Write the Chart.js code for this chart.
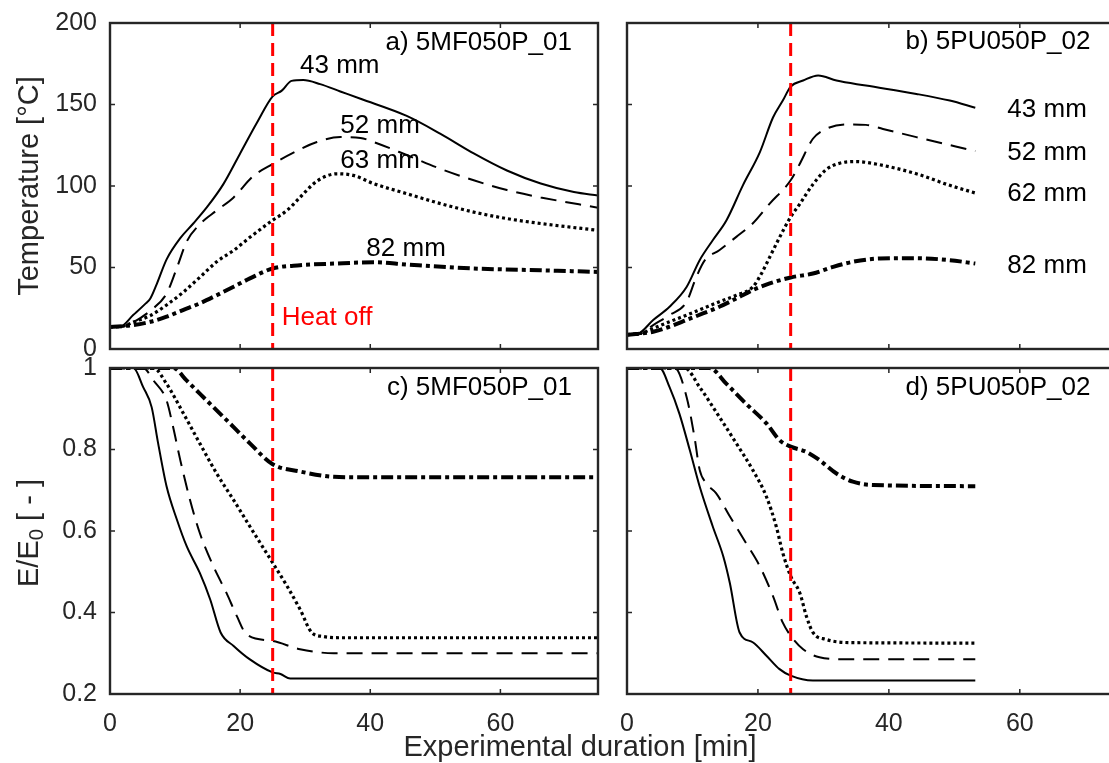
<!DOCTYPE html>
<html><head><meta charset="utf-8">
<script src="https://cdn.jsdelivr.net/npm/chart.js@4.4.1/dist/chart.umd.min.js"></script>
<style>
html,body{margin:0;padding:0;background:#fff;}
body{width:1109px;height:763px;overflow:hidden;position:relative;font-family:'Liberation Sans',Arial,sans-serif;}
.box{position:absolute;}
.ttl{position:absolute;color:#262626;font-size:29px;white-space:nowrap;line-height:1;}
.ttl sub{font-size:0.7em;vertical-align:-0.25em;line-height:0;}
</style></head><body>
<div class="box" style="left:0;top:0;width:620px;height:365px"><canvas id="ca"></canvas></div>
<div class="box" style="left:600px;top:0;width:540px;height:365px"><canvas id="cb"></canvas></div>
<div class="box" style="left:0;top:350px;width:620px;height:413px"><canvas id="cc"></canvas></div>
<div class="box" style="left:600px;top:350px;width:540px;height:413px"><canvas id="cd"></canvas></div>
<div class="ttl" style="left:28px;top:186px;transform:translate(-50%,-50%) rotate(-90deg)">Temperature [°C]</div>
<div class="ttl" style="left:28px;top:533px;transform:translate(-50%,-50%) rotate(-90deg)">E/E<sub>0</sub> [ - ]</div>
<div class="ttl" style="left:580px;top:746px;transform:translate(-50%,-50%)">Experimental duration [min]</div>
<script>
// ---------- data ----------
const heatOff = 25;
const xTicks = [0, 20, 40, 60];
const tempTicks = [0, 50, 100, 150, 200];
const ratioTicks = [0.2, 0.4, 0.6, 0.8, 1];

// a) 5MF050P_01 temperature [min, °C]
const a43 = [[0,13.5],[1.5,13.6],[3.6,21],[5.5,28],[6.2,31],[7.2,40],[8.7,55],[10.8,68],[12.8,77],[14.9,87],[17.4,101],[20,120],[22.6,139],[25,155],[26.4,158.5],[27.9,164.5],[29.7,165],[32.3,162.5],[35.4,158],[38.5,153.5],[45.6,143],[50.8,132],[55.9,120],[61,109.5],[66.2,101.5],[71.3,96.3],[75,94.2]];
const a52 = [[0,13.5],[2,14],[3.6,16.5],[6.2,23.5],[8.7,34],[10.3,50],[11.8,66],[13.8,76.5],[16.4,85],[19,93],[22,106],[25,113.5],[28.2,120.5],[31.8,127],[35.4,130],[38.5,129.5],[40.5,127],[45.6,119],[50.8,110.5],[55.9,103.5],[61,97.5],[66.2,93],[75,86.7]];
const a63 = [[0,13.5],[2,14],[3.6,16.5],[6.2,20.5],[8.7,27],[11.3,35],[13.8,44],[16.4,53.5],[19,60.5],[21.5,68.5],[25,79],[27.2,85],[29.2,93],[31.8,103],[34.9,107.5],[37.4,106.5],[40.5,101.5],[45.6,95.3],[50.8,89.2],[55.9,84],[61,80],[66.2,77],[75,72.8]];
const a82 = [[0,13.5],[3.6,14.7],[6.2,16.7],[8.7,19.8],[11.3,24],[13.8,28],[16.4,33],[19,38.2],[21.5,43.3],[25,49.4],[29.2,51.4],[34.4,52.4],[40.5,53.2],[45.6,51.8],[55.9,49.4],[66.2,48.3],[75,47.3]];

// b) 5PU050P_02 temperature
const b43 = [[0,9],[1.7,9.5],[4,17.8],[6.5,25.9],[9.1,38],[11.1,54.5],[13.1,66.7],[15.2,79],[17.7,100.4],[20.3,120.8],[22.3,142],[23.8,152.4],[25,161],[26.9,164.7],[29.2,167.8],[32,164.7],[36.5,161.6],[44.2,156.5],[49.3,152.4],[53.2,148]];
const b52 = [[0,9],[2,9.5],[4,14.7],[6.5,20.8],[9.1,29],[10.6,44.3],[11.9,54.5],[14.1,60.6],[16.7,68.8],[19.2,77],[21.8,89.2],[25,103.5],[26.4,113.7],[28.4,129],[30.4,135],[33.5,137.8],[36.5,137.5],[39.1,135],[44.2,130],[53.2,121.4]];
const b62 = [[0,9],[2,9.5],[4,12.7],[6.5,16.7],[9.1,20.8],[11.6,24.9],[14.1,29],[16.7,33],[19.2,38],[20.5,46],[22,58],[23.5,70],[25,81],[26.4,89],[28.4,101],[30.4,110],[32.5,114],[35,115],[38,113.5],[44.2,107.5],[49.3,100.4],[53.2,95.7]];
const b82 = [[0,8.6],[4,10.6],[6.5,13.7],[9.1,17.8],[11.6,21.8],[14.1,25.9],[16.7,31],[19.2,36.1],[21.8,40.2],[25,43.9],[28.4,46.3],[31.5,50.4],[34.5,53.5],[38.6,55.5],[44.2,55.7],[49.3,54.5],[53.2,52.4]];

// c) 5MF050P_01 E/E0
const c43 = [[0,1],[3.6,1],[5.1,0.953],[6.4,0.904],[7.4,0.815],[8.7,0.709],[10.3,0.627],[11.8,0.562],[13.8,0.497],[15.4,0.432],[17,0.351],[19,0.318],[21.5,0.285],[25,0.253],[26.2,0.249],[27.7,0.238],[75,0.238]];
const c52 = [[0,1],[5.1,1],[6.7,0.969],[8.7,0.92],[9.7,0.855],[10.8,0.774],[12.3,0.676],[13.8,0.595],[15.9,0.513],[17.9,0.448],[19.5,0.391],[21,0.346],[25,0.33],[29.2,0.31],[34.4,0.3],[75,0.3]];
const c63 = [[0,1],[6.7,1],[8.7,0.961],[11.3,0.888],[13.8,0.815],[16.4,0.741],[19,0.676],[21.5,0.611],[25,0.522],[27.2,0.465],[29.2,0.408],[31,0.351],[32.8,0.341],[36,0.338],[75,0.338]];
const c82 = [[0,1],[9.7,1],[11.8,0.969],[13.8,0.937],[16.4,0.896],[19,0.855],[21.5,0.815],[25,0.764],[29.2,0.746],[34.4,0.733],[38.5,0.732],[75,0.732]];

// d) 5PU050P_02 E/E0
const d43 = [[0,1],[5,1],[6.5,0.953],[8,0.888],[9.6,0.798],[11.1,0.709],[13.1,0.611],[14.7,0.538],[15.7,0.473],[17.2,0.351],[19.2,0.327],[21.3,0.294],[23.3,0.261],[25,0.245],[28.4,0.233],[53.2,0.233]];
const d52 = [[0,1],[7.3,1],[9.1,0.929],[10.3,0.831],[11.1,0.75],[12.1,0.717],[13.6,0.693],[15.7,0.636],[18.2,0.57],[20.3,0.513],[22.3,0.44],[23.8,0.375],[25,0.343],[26.9,0.31],[29.4,0.29],[33.5,0.285],[53.2,0.285]];
const d62 = [[0,1],[8.8,1],[11.1,0.953],[14.1,0.88],[16.7,0.815],[19.2,0.75],[21.3,0.684],[22.8,0.611],[23.8,0.546],[25,0.489],[26.4,0.448],[27.4,0.391],[28.4,0.351],[30.4,0.334],[34.5,0.326],[53.2,0.325]];
const d82 = [[0,1],[12.6,1],[15.2,0.961],[18.2,0.912],[21.3,0.864],[23.3,0.823],[25,0.807],[27.4,0.794],[29.4,0.774],[32,0.741],[34.5,0.721],[37.6,0.713],[53.2,0.71]];

// ---------- rendering ----------
const FONT = "'Liberation Sans', Arial, sans-serif";
Chart.defaults.font.family = FONT;
Chart.defaults.color = '#262626';

const styles = {
  solid:   {borderWidth: 2,   borderDash: []},
  dashed:  {borderWidth: 2,   borderDash: [16, 9]},
  dotted:  {borderWidth: 3.2, borderDash: [3, 3]},
  dashdot: {borderWidth: 4,   borderDash: [12, 4, 4, 4]}
};

const framePlugin = {
  id: 'frame',
  afterDatasetsDraw(chart) {
    const {ctx, chartArea: a, scales: {x, y}} = chart;
    ctx.save();
    ctx.strokeStyle = '#262626';
    ctx.lineWidth = 1.5;
    ctx.beginPath();
    x.ticks.forEach(t => {
      const p = x.getPixelForValue(t.value);
      if (p <= a.left + 1 || p >= a.right - 1) return;
      ctx.moveTo(p, a.bottom); ctx.lineTo(p, a.bottom - 5);
      ctx.moveTo(p, a.top); ctx.lineTo(p, a.top + 5);
    });
    y.ticks.forEach(t => {
      const p = y.getPixelForValue(t.value);
      if (p <= a.top + 1 || p >= a.bottom - 1) return;
      ctx.moveTo(a.left, p); ctx.lineTo(a.left + 5, p);
      ctx.moveTo(a.right, p); ctx.lineTo(a.right - 5, p);
    });
    ctx.stroke();
    ctx.lineWidth = 2.4;
    ctx.strokeRect(a.left, a.top, a.width, a.height);
    ctx.restore();
  }
};

const annotPlugin = {
  id: 'annot',
  afterDraw(chart, args, opts) {
    const {ctx, scales: {x, y}} = chart;
    ctx.save();
    ctx.font = '26px ' + FONT;
    ctx.textBaseline = 'middle';
    (opts.items || []).forEach(it => {
      ctx.fillStyle = it.color || '#000';
      ctx.textAlign = it.align || 'left';
      ctx.fillText(it.text, x.getPixelForValue(it.x), y.getPixelForValue(it.y));
    });
    ctx.restore();
  }
};

function panel(id, series, yMin, yMax, yTicks, showY, showX, xAxisH, yAxisW, pad, items) {
  const datasets = [{
    data: [{x: heatOff, y: yMax}, {x: heatOff, y: yMin}],
    borderColor: '#ff0000', borderWidth: 3, borderDash: [13, 7], pointRadius: 0, tension: 0
  }];
  series.forEach(([arr, st]) => datasets.push(Object.assign({
    data: arr.map(([x, y]) => ({x, y})),
    borderColor: '#000', pointRadius: 0, cubicInterpolationMode: 'monotone', fill: false
  }, styles[st])));
  new Chart(document.getElementById(id), {
    type: 'line',
    data: {datasets},
    options: {
      responsive: true, maintainAspectRatio: false, animation: false,
      layout: {padding: pad},
      plugins: {legend: {display: false}, tooltip: {enabled: false}, annot: {items}},
      scales: {
        x: {
          type: 'linear', min: 0, max: 75,
          afterBuildTicks: s => { s.ticks = xTicks.map(v => ({value: v})); },
          afterFit: s => { s.height = xAxisH; s.paddingLeft = 0; s.paddingRight = 0; },
          grid: {display: false, drawTicks: false}, border: {display: false},
          ticks: {display: showX, font: {size: 25}, color: '#262626', padding: 15, maxRotation: 0}
        },
        y: {
          type: 'linear', min: yMin, max: yMax,
          afterBuildTicks: s => { s.ticks = yTicks.map(v => ({value: v})); },
          afterFit: s => { s.width = yAxisW; s.paddingTop = 0; s.paddingBottom = 0; },
          grid: {display: false, drawTicks: false}, border: {display: false},
          ticks: {display: showY, font: {size: 25}, color: '#262626', padding: 13,
                  callback: v => String(+(+v).toFixed(1))}
        }
      }
    },
    plugins: [framePlugin, annotPlugin]
  });
}

panel('ca', [[a43,'solid'],[a52,'dashed'],[a63,'dotted'],[a82,'dashdot']], 0, 200, tempTicks,
  true, false, 16, 110, {left: 0, top: 23, right: 22, bottom: 0}, [
    {text: 'a) 5MF050P_01', x: 71, y: 188, align: 'right'},
    {text: '43 mm', x: 29.2, y: 174},
    {text: '52 mm', x: 35.4, y: 137},
    {text: '63 mm', x: 35.4, y: 115.5},
    {text: '82 mm', x: 39.4, y: 61.5},
    {text: 'Heat off', x: 26.4, y: 19, color: '#ff0000'}
  ]);
panel('cb', [[b43,'solid'],[b52,'dashed'],[b62,'dotted'],[b82,'dashdot']], 0, 200, tempTicks,
  false, false, 16, 27, {left: 0, top: 23, right: 22, bottom: 0}, [
    {text: 'b) 5PU050P_02', x: 70.8, y: 188.5, align: 'right'},
    {text: '43 mm', x: 58.1, y: 147},
    {text: '52 mm', x: 58.1, y: 120.3},
    {text: '62 mm', x: 58.1, y: 95},
    {text: '82 mm', x: 58.1, y: 51}
  ]);
panel('cc', [[c43,'solid'],[c52,'dashed'],[c63,'dotted'],[c82,'dashdot']], 0.2, 1, ratioTicks,
  true, true, 69, 110, {left: 0, top: 18, right: 22, bottom: 0}, [
    {text: 'c) 5MF050P_01', x: 71, y: 0.952, align: 'right'}
  ]);
panel('cd', [[d43,'solid'],[d52,'dashed'],[d62,'dotted'],[d82,'dashdot']], 0.2, 1, ratioTicks,
  false, true, 69, 27, {left: 0, top: 18, right: 22, bottom: 0}, [
    {text: 'd) 5PU050P_02', x: 70.8, y: 0.952, align: 'right'}
  ]);
</script>
</body></html>
